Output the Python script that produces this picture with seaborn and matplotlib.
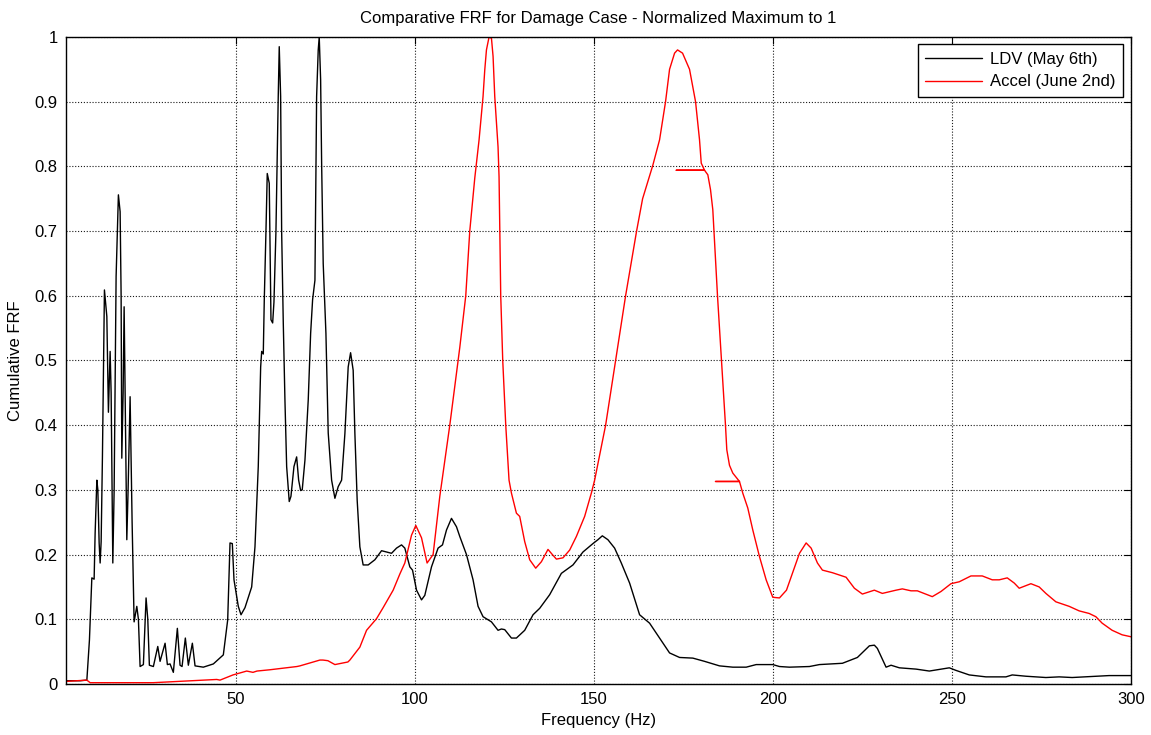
import matplotlib
matplotlib.use("Agg")
import matplotlib.pyplot as plt
import seaborn as sns
from matplotlib.ticker import FormatStrFormatter

# ---- data ----
ldv_freq = [2.5, 6.47, 8.34, 9.06, 9.73, 10.37, 10.65, 11.13, 11.41, 11.77, 12.05, 12.33, 12.69,
            13.25, 13.92, 14.36, 14.84, 15.12, 15.59, 15.96, 16.51, 17.15, 17.63, 17.91, 18.10,
            18.47, 18.75, 19.02, 19.50, 19.86, 20.42, 20.98, 21.54, 22.29, 22.74, 23.21, 24.13,
            24.88, 25.36, 25.80, 26.92, 28.15, 28.79, 30.19, 30.83, 31.58, 32.50, 33.62, 34.37,
            34.93, 35.85, 36.69, 37.81, 38.56, 40.87, 43.67, 46.46, 47.68, 48.33, 48.97, 49.44,
            50.64, 51.40, 52.51, 54.38, 55.30, 56.22, 56.89, 57.17, 57.62, 57.90, 58.37, 58.73,
            59.29, 59.49, 59.77, 60.24, 60.60, 61.16, 61.80, 62.08, 62.47, 62.75, 63.20, 63.67,
            64.15, 64.87, 65.35, 66.19, 66.94, 67.50, 68.06, 68.50, 69.26, 70.18, 70.85, 71.40,
            72.05, 72.52, 72.97, 73.25, 73.64, 73.92, 74.36, 75.12, 75.76, 76.71, 77.63, 78.55,
            79.50, 80.42, 81.34, 82.01, 82.73, 83.21, 83.85, 84.60, 85.52, 86.92, 88.79, 90.66,
            92.05, 93.45, 94.84, 96.24, 97.16, 98.56, 99.31, 100.43, 101.82, 102.74, 104.61,
            106.45, 107.68, 108.80, 110.19, 111.59, 112.51, 114.38, 116.22, 117.62, 119.01,
            121.36, 123.20, 124.15, 125.07, 126.94, 128.33, 130.65, 132.97, 134.84, 137.62,
            140.89, 144.13, 146.92, 149.71, 151.10, 152.33, 153.89, 155.76, 157.63, 159.95,
            162.74, 165.53, 168.32, 171.11, 173.90, 177.61, 180.88, 185.06, 188.78, 192.52,
            195.31, 199.94, 201.81, 204.60, 210.18, 212.97, 219.39, 223.58, 226.93, 228.32,
            229.16, 231.59, 232.98, 235.30, 239.96, 243.67, 246.94, 249.25, 251.12, 254.83,
            259.49, 265.07, 266.83, 270.65, 276.23, 279.95, 283.57, 293.90, 299.49, 300.0]
ldv_frf = [0.005, 0.005, 0.006, 0.068, 0.164, 0.162, 0.233, 0.315, 0.30, 0.218, 0.187, 0.22, 0.351,
           0.609, 0.568, 0.42, 0.514, 0.45, 0.187, 0.30, 0.63, 0.756, 0.73, 0.60, 0.349,
           0.45, 0.583, 0.45, 0.223, 0.30, 0.444, 0.25, 0.096, 0.12, 0.10, 0.027, 0.03,
           0.133, 0.10, 0.029, 0.027, 0.058, 0.035, 0.063, 0.03, 0.031, 0.018, 0.086, 0.029,
           0.027, 0.071, 0.029, 0.063, 0.028, 0.026, 0.031, 0.045, 0.099, 0.218, 0.217, 0.161,
           0.12, 0.107, 0.118, 0.15, 0.212, 0.336, 0.49, 0.514, 0.51, 0.594, 0.70, 0.789,
           0.774, 0.69, 0.563, 0.558, 0.59, 0.70, 0.908, 0.985, 0.908, 0.70, 0.56, 0.439,
           0.336, 0.282, 0.29, 0.336, 0.351, 0.315, 0.299, 0.30, 0.346, 0.439, 0.542, 0.594,
           0.624, 0.908, 0.98, 1.0, 0.934, 0.805, 0.65, 0.542, 0.388, 0.315, 0.287, 0.305,
           0.315, 0.387, 0.49, 0.512, 0.485, 0.387, 0.284, 0.212, 0.184, 0.184, 0.192, 0.206,
           0.204, 0.202, 0.21, 0.215, 0.21, 0.181, 0.176, 0.145, 0.13, 0.137, 0.181,
           0.21, 0.215, 0.238, 0.256, 0.243, 0.228, 0.20, 0.161, 0.12, 0.104,
           0.096, 0.083, 0.085, 0.084, 0.071, 0.071, 0.083, 0.107, 0.117, 0.138,
           0.171, 0.184, 0.204, 0.217, 0.223, 0.229, 0.223, 0.21, 0.187, 0.156,
           0.107, 0.094, 0.071, 0.048, 0.041, 0.04, 0.035, 0.028, 0.026, 0.026,
           0.03, 0.03, 0.027, 0.026, 0.027, 0.03, 0.032, 0.041, 0.059, 0.06,
           0.055, 0.026, 0.029, 0.025, 0.023, 0.02, 0.023, 0.025, 0.021, 0.014,
           0.011, 0.011, 0.014, 0.012, 0.010, 0.011, 0.010, 0.013, 0.013, 0.013]

accel_freq = [2.5, 8.34, 9.26, 26.84, 37.16, 44.61, 45.54, 49.16, 52.99, 54.74, 55.86, 59.49,
              67.02, 67.86, 73.44, 74.28, 75.67, 77.63, 81.25, 81.81, 84.60, 86.47, 89.26,
              91.10, 93.90, 95.77, 97.16, 99.03, 100.23, 101.82, 103.38, 105.06, 106.93,
              109.72, 112.51, 114.18, 115.30, 116.70, 117.17, 117.90, 118.57, 119.01, 119.49,
              119.96, 120.69, 121.36, 121.81, 122.28, 122.75, 123.20, 123.48, 123.95, 124.51,
              125.35, 126.27, 126.94, 128.33, 129.25, 130.65, 132.04, 133.72, 135.31, 137.15,
              138.38, 139.50, 141.34, 143.21, 145.08, 147.39, 149.26, 150.18, 153.25, 156.04,
              158.83, 161.90, 163.58, 166.45, 168.32, 169.99, 171.11, 172.51, 173.34, 174.74,
              176.69, 178.37, 179.48, 179.96, 180.88, 172.98, 180.88, 181.80, 182.55, 183.19,
              184.50, 185.62, 186.73, 187.10, 187.85, 188.77, 190.64, 183.94, 190.64, 191.56,
              192.96, 194.36, 196.22, 198.09, 199.94, 201.81, 203.77, 205.44, 207.40, 209.26,
              210.66, 212.42, 213.81, 216.60, 220.42, 222.74, 224.97, 228.32, 230.55, 234.37,
              236.13, 238.56, 240.32, 244.50, 246.94, 249.72, 252.04, 255.30, 258.46, 261.25,
              263.20, 265.44, 267.39, 268.78, 272.05, 274.36, 276.23, 279.02, 282.74, 285.53,
              288.32, 290.19, 291.95, 294.74, 297.53, 300.0]
accel_frf = [0.004, 0.006, 0.002, 0.002, 0.005, 0.007, 0.006, 0.014, 0.02, 0.018, 0.02, 0.022,
             0.027, 0.028, 0.037, 0.037, 0.036, 0.03, 0.034, 0.037, 0.057, 0.083, 0.101,
             0.118, 0.145, 0.17, 0.187, 0.23, 0.245, 0.226, 0.187, 0.20, 0.29,
             0.40, 0.52, 0.60, 0.70, 0.782, 0.805, 0.841, 0.882, 0.908, 0.949,
             0.98, 1.0, 0.998, 0.97, 0.908, 0.867, 0.83, 0.784, 0.60, 0.50,
             0.40, 0.315, 0.295, 0.264, 0.259, 0.22, 0.192, 0.179, 0.189, 0.208,
             0.20, 0.193, 0.195, 0.207, 0.228, 0.259, 0.295, 0.315, 0.40, 0.50,
             0.60, 0.70, 0.75, 0.802, 0.841, 0.90, 0.95, 0.975, 0.98, 0.975,
             0.95, 0.90, 0.841, 0.805, 0.794, 0.794, 0.794, 0.787, 0.764, 0.733,
             0.60, 0.50, 0.40, 0.362, 0.338, 0.326, 0.313, 0.313, 0.313, 0.295,
             0.272, 0.238, 0.197, 0.161, 0.134, 0.133, 0.145, 0.171, 0.202, 0.218,
             0.21, 0.187, 0.176, 0.172, 0.165, 0.148, 0.139, 0.145, 0.14, 0.145,
             0.147, 0.144, 0.144, 0.135, 0.143, 0.155, 0.158, 0.167, 0.167, 0.161,
             0.161, 0.164, 0.156, 0.148, 0.155, 0.15, 0.14, 0.127, 0.12, 0.113,
             0.109, 0.104, 0.094, 0.083, 0.076, 0.073]

x_ticks = [50, 100, 150, 200, 250, 300]
y_ticks = [0, 0.1, 0.2, 0.3, 0.4, 0.5, 0.6, 0.7, 0.8, 0.9, 1.0]

title = "Comparative FRF for Damage Case - Normalized Maximum to 1"
x_label = "Frequency (Hz)"
y_label = "Cumulative FRF"
ldv_name = "LDV (May 6th)"
accel_name = "Accel (June 2nd)"

# ---- style ----
sns.set_theme(style="white")
plt.rcParams["font.family"] = ["Liberation Sans", "DejaVu Sans"]
plt.rcParams["axes.edgecolor"] = "black"
plt.rcParams["axes.linewidth"] = 1.0
plt.rcParams["text.color"] = "black"
plt.rcParams["axes.labelcolor"] = "black"
plt.rcParams["xtick.color"] = "black"
plt.rcParams["ytick.color"] = "black"

fig = plt.figure(figsize=(11.51, 7.35), dpi=100)
ax = fig.add_axes([0.0573, 0.0694, 0.9253, 0.8803])

sns.lineplot(x=ldv_freq, y=ldv_frf, sort=False, estimator=None, color="black",
             linewidth=1.0, ax=ax, label=ldv_name)
sns.lineplot(x=accel_freq, y=accel_frf, sort=False, estimator=None, color="red",
             linewidth=1.0, ax=ax, label=accel_name)

ax.set_xlim(2.5, 300)
ax.set_ylim(0, 1)
ax.set_xticks(x_ticks)
ax.set_yticks(y_ticks)
ax.yaxis.set_major_formatter(FormatStrFormatter("%g"))
ax.tick_params(direction="in", top=True, right=True, length=5, width=0.8,
               labelsize=12, colors="black", pad=6)
ax.grid(True, linestyle=(0, (1, 1.6)), color="black", linewidth=0.8, alpha=0.9)
for s in ax.spines.values():
    s.set_visible(True)
    s.set_color("black")

ax.set_title(title, fontsize=12, pad=10, color="black")
ax.set_xlabel(x_label, fontsize=12, labelpad=4, color="black")
ax.set_ylabel(y_label, fontsize=12, labelpad=8, color="black")

leg = ax.legend(loc="upper right", fontsize=12, frameon=True, fancybox=False,
                edgecolor="black", framealpha=1, borderaxespad=0.45,
                handlelength=3.4, handletextpad=0.5, borderpad=0.45,
                labelspacing=0.45)
leg.get_frame().set_linewidth(1.0)
for t in leg.get_texts():
    t.set_color("black")

fig.savefig("out.png", dpi=100)
